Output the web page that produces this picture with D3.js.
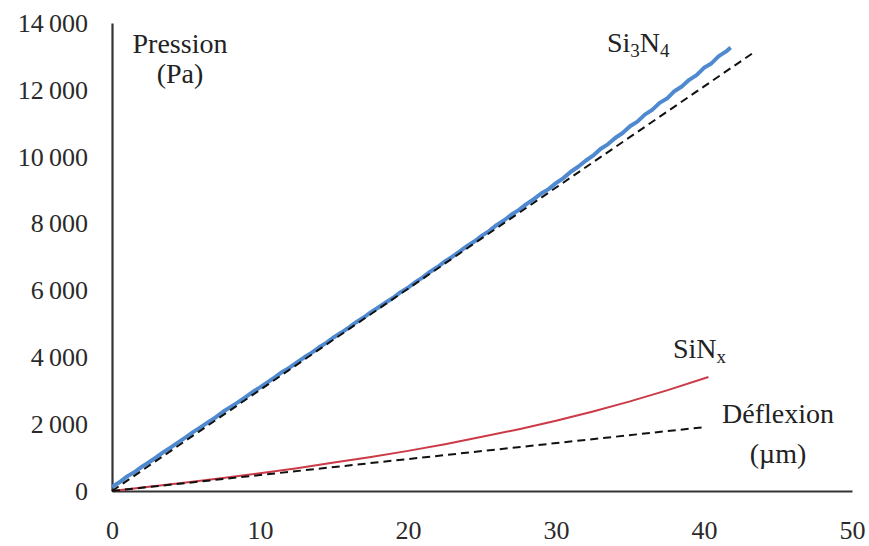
<!DOCTYPE html>
<html>
<head>
<meta charset="utf-8">
<script src="https://cdn.jsdelivr.net/npm/d3@7"></script>
<style>
    body { margin: 0; background: #ffffff; }
    svg text { font-family: 'Liberation Serif'; fill: #222222; }
</style>
</head>
<body>
<div id="chart"></div>
<script>
// deflexion (um) / pression (Pa)
var xTicks = [0, 10, 20, 30, 40, 50];
var yTicks = [0, 2000, 4000, 6000, 8000, 10000, 12000, 14000];

// Si3N4 measured curve (noisy)
var si3n4X = [0, 0.5, 1, 1.5, 2, 2.5, 3, 3.5, 4, 4.5, 5, 5.5, 6, 6.5, 7, 7.5, 8, 8.5, 9, 9.5,
    10, 10.5, 11, 11.5, 12, 12.5, 13, 13.5, 14, 14.5, 15, 15.5, 16, 16.5, 17, 17.5, 18, 18.5, 19, 19.5,
    20, 20.5, 21, 21.5, 22, 22.5, 23, 23.5, 24, 24.5, 25, 25.5, 26, 26.5, 27, 27.5, 28, 28.5, 29, 29.5,
    30, 30.5, 31, 31.5, 32, 32.5, 33, 33.5, 34, 34.5, 35, 35.5, 36, 36.5, 37, 37.5, 38, 38.5, 39, 39.5,
    40, 40.5, 41, 41.5, 41.8];
var si3n4Y = [120, 260, 430, 560, 720, 860, 1010, 1170, 1310, 1460, 1610, 1770, 1910, 2060, 2200, 2370, 2510, 2650, 2800, 2960,
    3100, 3250, 3400, 3560, 3690, 3850, 4000, 4140, 4300, 4440, 4600, 4740, 4890, 5050, 5190, 5350, 5490, 5640, 5780, 5950,
    6080, 6250, 6390, 6560, 6700, 6870, 7010, 7170, 7330, 7470, 7640, 7780, 7960, 8100, 8270, 8410, 8580, 8730, 8900, 9030,
    9210, 9360, 9550, 9700, 9880, 10030, 10230, 10370, 10560, 10710, 10910, 11050, 11260, 11400, 11610, 11740, 11960, 12100, 12300, 12440,
    12660, 12790, 13010, 13150, 13270];

// SiNx measured curve
var sinxX = [0, 2.5, 5, 7.5, 10, 12.5, 15, 17.5, 20, 22.5, 25, 27.5, 30, 32.5, 35, 37.5, 40.3];
var sinxY = [0, 125, 255, 390, 530, 680, 850, 1020, 1200, 1400, 1620, 1850, 2100, 2380, 2680, 3010, 3410];

// linear fits (dashed)
var fitSi3n4X = [0, 43.4];
var fitSi3n4Y = [0, 13130];
var fitSinxX = [0, 40.1];
var fitSinxY = [0, 1915];

var width = 869, height = 546;
var serif = "'Liberation Serif'";

var x = d3.scaleLinear().domain([0, 50]).range([112, 852]);
var y = d3.scaleLinear().domain([0, 14000]).range([491, 23]);

var svg = d3.select("#chart")
    .append("svg")
    .attr("width", width)
    .attr("height", height);

function toPoints(xs, ys)
{
    var pts = [];
    for (var i=0; i<xs.length; i++) {
        pts.push([xs[i], ys[i]]);
    }
    return pts;
}

var line = d3.line()
    .x(function(d) { return x(d[0]); })
    .y(function(d) { return y(d[1]); });

// axes, no tick marks
var fmt = function(d) { return d3.format(",")(d).replace(",", "\u2009"); };

svg.append("g")
    .attr("transform", "translate(112,0)")
    .call(d3.axisLeft(y).tickValues(yTicks).tickSize(0).tickPadding(24).tickFormat(fmt));

svg.append("g")
    .attr("transform", "translate(0,491)")
    .call(d3.axisBottom(x).tickValues(xTicks).tickSize(0).tickPadding(30).tickFormat(d3.format("d")));

svg.selectAll("g").attr("font-family", serif);
svg.selectAll(".domain").style("stroke", "#333333").style("stroke-width", 2.2);
svg.selectAll(".tick text")
    .style("font-family", serif)
    .style("font-size", "26px")
    .style("fill", "#2a2a2a");

// curves
svg.append("path")
    .datum(toPoints(sinxX, sinxY))
    .attr("d", line)
    .style("fill", "none")
    .style("stroke", "#cc3a48")
    .style("stroke-width", 2);

svg.append("path")
    .datum(toPoints(si3n4X, si3n4Y))
    .attr("d", line)
    .style("fill", "none")
    .style("stroke", "#4f8ad0")
    .style("stroke-width", 4)
    .style("stroke-linejoin", "round");

[toPoints(fitSi3n4X, fitSi3n4Y), toPoints(fitSinxX, fitSinxY)].forEach(function(pts) {
    svg.append("path")
        .datum(pts)
        .attr("d", line)
        .style("fill", "none")
        .style("stroke", "#111111")
        .style("stroke-width", 2)
        .style("stroke-dasharray", "8,5");
});

// labels
function label(txt, px, py, anchor)
{
    return svg.append("text")
        .attr("x", px)
        .attr("y", py)
        .attr("text-anchor", anchor || "start")
        .style("font-family", serif)
        .style("font-size", "28px")
        .text(txt);
}

label("Pression", 180, 53, "middle");
label("(Pa)", 180, 83, "middle");
label("Déflexion", 778, 423, "middle");
label("(\u00b5m)", 778, 463, "middle");

var t1 = label("Si", 607, 52);
t1.append("tspan").attr("dy", 5).style("font-size", "19px").text("3");
t1.append("tspan").attr("dy", -5).text("N");
t1.append("tspan").attr("dy", 5).style("font-size", "19px").text("4");

var t2 = label("Si", 673, 358);
t2.append("tspan").text("N");
t2.append("tspan").attr("dy", 5).style("font-size", "19px").text("x");
</script>
</body>
</html>
